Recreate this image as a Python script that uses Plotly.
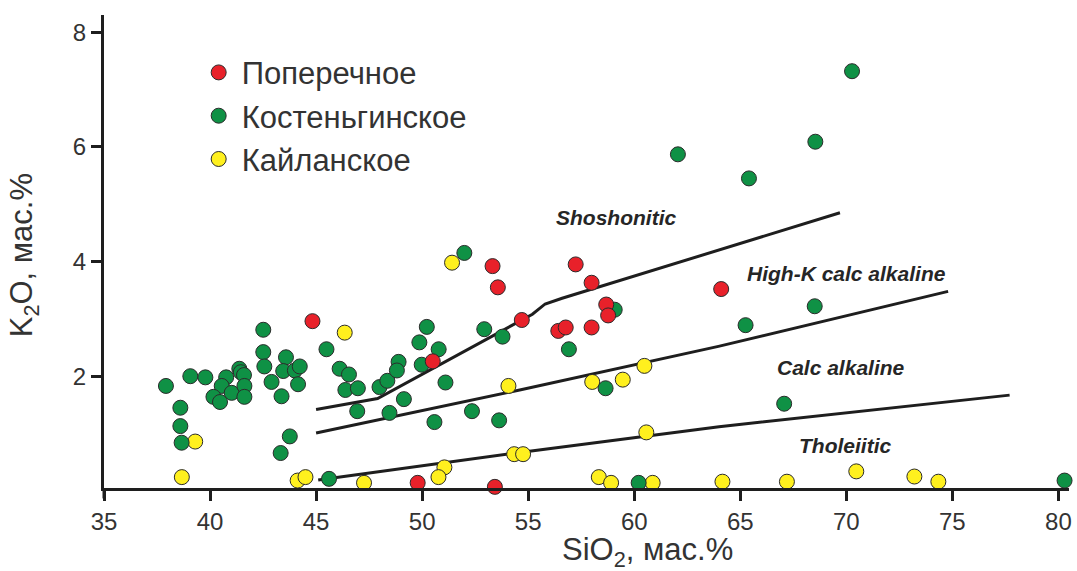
import plotly.graph_objects as go

# ---- data ----
red_name = "Поперечное"
red_x = [44.83, 50.5, 49.79, 53.32, 53.57, 54.7, 53.43, 57.24, 57.99, 58.68, 58.77, 56.42, 56.77, 57.99, 64.1]
red_y = [2.96, 2.26, 0.14, 3.92, 3.55, 2.98, 0.07, 3.95, 3.63, 3.25, 3.06, 2.79, 2.85, 2.85, 3.52]

green_name = "Костеньгинское"
green_x = [37.92, 39.07, 39.78, 38.6, 38.6, 38.66, 40.76, 40.55, 40.16, 40.47, 41.02, 41.38, 41.45, 41.6,
           41.62, 41.62, 42.51, 42.51, 42.56, 42.9, 43.37, 43.58, 43.45, 44.0, 44.23, 44.15, 43.76, 43.33,
           45.49, 46.11, 46.55, 46.38, 46.97, 46.94, 47.99, 48.36, 48.89, 48.81, 49.14, 48.46, 50.22, 49.87,
           50.78, 49.98, 51.1, 50.58, 52.93, 53.79, 52.35, 53.63, 45.61, 51.99,
           59.08, 56.92, 58.65, 60.21, 62.06, 65.41, 68.54, 70.27, 68.51, 65.25, 67.07, 80.29]
green_y = [1.83, 2.0, 1.98, 1.45, 1.13, 0.84, 1.98, 1.83, 1.64, 1.55, 1.71, 2.13, 2.07, 2.02,
           1.83, 1.64, 2.81, 2.42, 2.17, 1.90, 1.65, 2.33, 2.09, 2.10, 2.17, 1.86, 0.95, 0.66,
           2.47, 2.13, 2.03, 1.76, 1.79, 1.39, 1.81, 1.92, 2.25, 2.10, 1.60, 1.36, 2.86, 2.59,
           2.47, 2.20, 1.89, 1.20, 2.82, 2.69, 1.39, 1.23, 0.21, 4.15,
           3.16, 2.47, 1.79, 0.14, 5.87, 5.45, 6.09, 7.32, 3.22, 2.89, 1.52, 0.18]

yellow_name = "Кайланское"
yellow_x = [39.3, 38.67, 44.13, 44.5, 51.41, 46.35, 54.07, 54.34, 54.76, 51.05, 50.77, 47.26,
            58.02, 59.46, 60.48, 60.57, 58.33, 58.91, 60.87, 64.16, 67.2, 70.47, 73.21, 74.34]
yellow_y = [0.86, 0.24, 0.18, 0.24, 3.98, 2.76, 1.83, 0.64, 0.64, 0.41, 0.24, 0.14,
            1.90, 1.94, 2.18, 1.02, 0.24, 0.14, 0.14, 0.16, 0.16, 0.34, 0.25, 0.16]

# boundary lines
sho_x = [45.0, 47.9, 55.2, 55.8, 56.6, 69.7]
sho_y = [1.42, 1.61, 3.08, 3.26, 3.36, 4.85]
hk_x = [45.0, 54.6, 63.97, 74.8]
hk_y = [1.01, 1.76, 2.52, 3.48]
ca_x = [45.1, 54.6, 64.0, 77.7]
ca_y = [0.19, 0.67, 1.12, 1.67]

field_labels = ["Shoshonitic", "High-K calc alkaline", "Calc alkaline", "Tholeiitic"]
field_label_x = [59.13, 69.99, 69.75, 69.94]
field_label_y = [4.76, 3.80, 2.16, 0.80]

x_ticks = [35, 40, 45, 50, 55, 60, 65, 70, 75, 80]
y_ticks = [2, 4, 6, 8]

FONT = "Liberation Sans, Arial, sans-serif"
LINE_COLOR = "#1e1e1e"

fig = go.Figure()

for xs, ys in [(sho_x, sho_y), (hk_x, hk_y), (ca_x, ca_y)]:
    fig.add_trace(go.Scatter(x=xs, y=ys, mode="lines", showlegend=False, hoverinfo="skip",
                             line=dict(color=LINE_COLOR, width=3)))

for name, xs, ys, col in [(yellow_name, yellow_x, yellow_y, "#fff01e"),
                          (green_name, green_x, green_y, "#0f9145"),
                          (red_name, red_x, red_y, "#e8212a")]:
    fig.add_trace(go.Scatter(x=xs, y=ys, mode="markers", name=name, cliponaxis=False,
                             marker=dict(size=15, color=col, line=dict(color="#2b2b2b", width=1))))

for t, lx, ly in zip(field_labels, field_label_x, field_label_y):
    fig.add_annotation(x=lx, y=ly, text="<b><i>" + t + "</i></b>", showarrow=False,
                       xanchor="center", yanchor="middle",
                       font=dict(family=FONT, size=21, color="#262626"))

# axis titles
fig.add_annotation(xref="paper", yref="paper", x=0.5632, y=-0.1353, text="SiO<sub>2</sub>, мас.%",
                   xanchor="center", yanchor="middle",
                   showarrow=False, font=dict(family=FONT, size=31, color="#333333"))
fig.add_annotation(xref="paper", yref="paper", x=-0.0826, y=0.4926, text="K<sub>2</sub>O, мас.%",
                   xanchor="center", yanchor="middle",
                   textangle=-90, showarrow=False, font=dict(family=FONT, size=31, color="#333333"))

# y-axis extension below x axis
fig.add_shape(type="line", xref="paper", yref="paper", x0=0, x1=0, y0=0, y1=-0.022,
              line=dict(color=LINE_COLOR, width=3))

fig.update_layout(
    width=1077, height=571,
    margin=dict(l=104, r=5, t=15, b=83),
    paper_bgcolor="white", plot_bgcolor="white",
    font=dict(family=FONT, color="#333333"),
    legend=dict(x=0.095, y=0.935, xanchor="left", yanchor="top", traceorder="reversed",
                font=dict(family=FONT, size=31, color="#333333"), bgcolor="rgba(0,0,0,0)",
                itemwidth=36),
    xaxis=dict(range=[35, 80.5], tickvals=x_ticks, ticks="outside", ticklen=10, tickwidth=3,
               tickcolor=LINE_COLOR, showline=True, linecolor=LINE_COLOR, linewidth=3,
               showgrid=False, zeroline=False, tickfont=dict(size=24, color="#333333")),
    yaxis=dict(range=[0.05, 8.3], tickvals=y_ticks, ticks="outside", ticklen=10, tickwidth=3,
               tickcolor=LINE_COLOR, showline=True, linecolor=LINE_COLOR, linewidth=3,
               showgrid=False, zeroline=False, tickfont=dict(size=24, color="#333333")),
)

fig.write_html("out.html")
